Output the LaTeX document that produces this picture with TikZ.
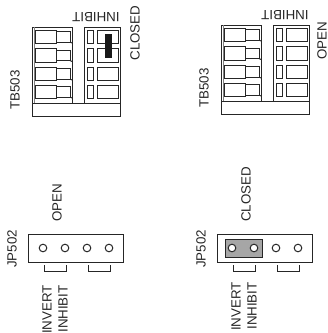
\documentclass[tikz,border=0pt]{standalone}
\usepackage{fontspec}
\setmainfont{Liberation Sans}
\tikzset{
  part/.style={draw=black!85, line width=.75pt},
  thinpart/.style={draw=black!50, line width=.5pt},
  label/.style={inner sep=0pt, font=\fontsize{10}{11}\selectfont, text=black!85},
  pin/.style={part, fill=white},
}
\begin{document}
\begin{tikzpicture}[x=.75pt, y=-.75pt]
\useasboundingbox (0,0) rectangle (328,333);
% terminal blocks
\foreach \name/\dx/\dy/\state/\sx/\sy in {A/0/0/CLOSED/135/33, B/189/-2/OPEN/133/43} {
 \begin{scope}[shift={(\dx,\dy)}]
 \draw[part] (32,103) rectangle (120,116);
 \draw[part] (72,103) |- (32,27) -- (32,103);
 \draw[part] (84,103) |- (120,27) -- (120,103);
 \draw[thinpart] (34,27) -- (34,103);
 \foreach \y in {30,48.5,67,85} {
  \draw[part] (35,\y) rectangle ++(21,13.5);
  \draw[part] (56,\y+1.5) rectangle ++(14,10.5);
  \draw[part] (70,\y+12) -- (72,\y+13);
  \draw[part] (87,\y) rectangle ++(6,13.5);
  \draw[part] (97,\y) rectangle ++(21,13.5);
 }
 \node[label, rotate=90] (tb\name) at (15,90) {TB503};
 \node[label, rotate=180] (inhibit\name) at (96,17) {INHIBIT};
 \node[label, rotate=90] (state\name) at (\sx,\sy) {\state};
 \end{scope}
}
\fill[black!90] (105,34) rectangle (112,58);
% jumper headers
\fill[black!35] (225,239) rectangle (262,257);
\draw[part] (225,239) rectangle (262,257);
\foreach \name/\dx/\state/\sx/\top in {A/0/OPEN/57/285, B/189/CLOSED/57/282} {
 \begin{scope}[shift={(\dx,0)}]
 \draw[part] (28,234) rectangle (123,262);
 \foreach \x in {43,65,87,109} {
  \draw[pin] (\x,248) circle (3.8);
 }
 \draw[part] (44,265) |- (66,271) -- (66,265);
 \draw[part] (88,265) |- (110,271) -- (110,265);
 \node[label, rotate=90] (jp\name) at (12,249) {JP502};
 \node[label, rotate=90, anchor=west] (state2\name) at (\sx,222) {\state};
 \node[label, rotate=90, anchor=east] (invert\name) at (47,\top) {INVERT};
 \node[label, rotate=90, anchor=east] (inh\name) at (63,\top) {INHIBIT};
 \end{scope}
}
\end{tikzpicture}
\end{document}
